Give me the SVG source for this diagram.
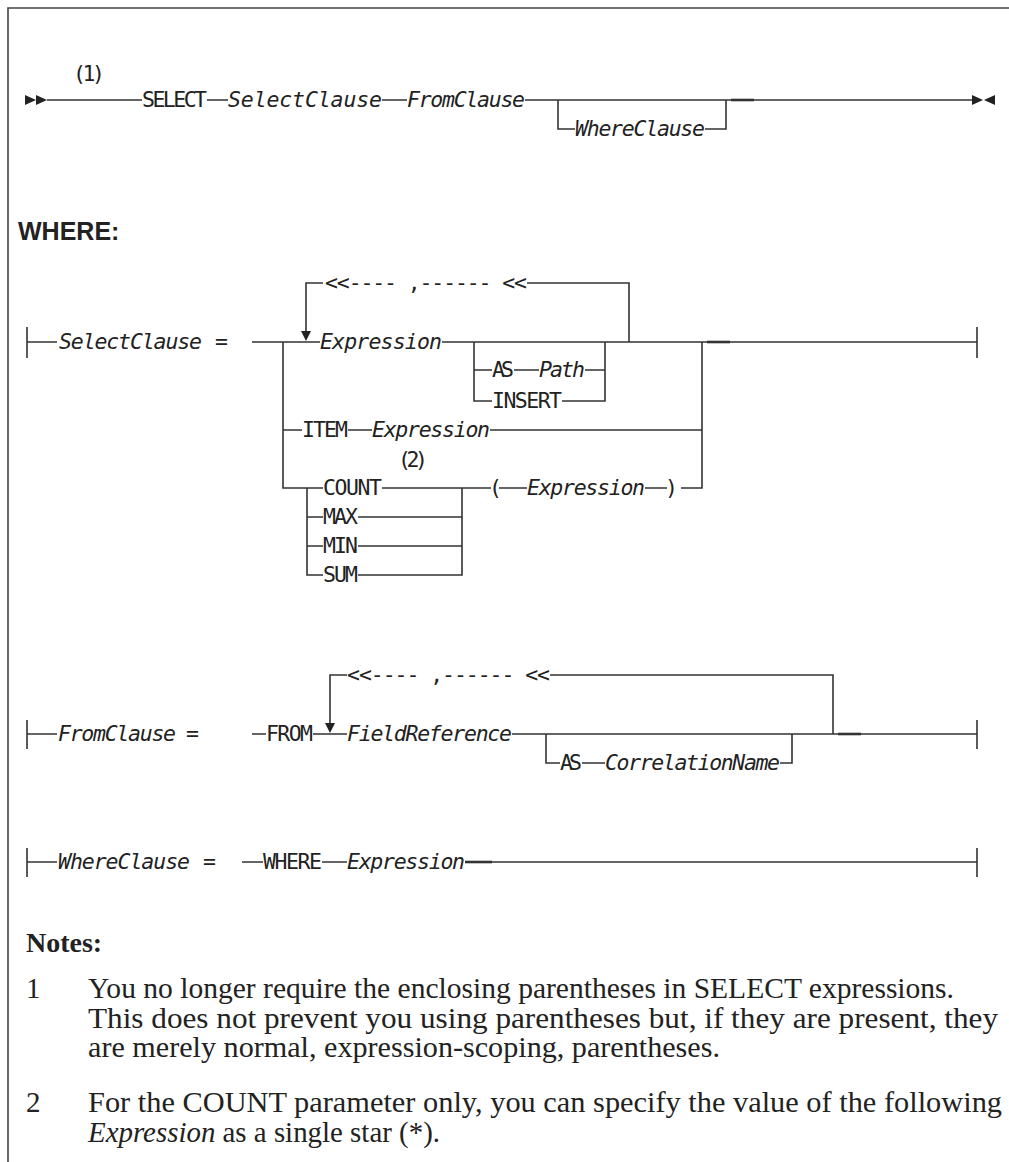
<svg xmlns="http://www.w3.org/2000/svg" width="1009" height="1162" viewBox="0 0 1009 1162">
<style>
.ln{fill:none;stroke:#333;stroke-width:1.6}
.thk{fill:none;stroke:#333;stroke-width:2.6}
.m{font-family:"DejaVu Sans Mono","Liberation Mono",monospace;font-size:21.5px;fill:#222}
.i{font-style:italic}
.hd{font-family:"Liberation Sans",Arial,sans-serif;font-weight:bold;font-size:25px;fill:#222}
.nt{font-family:"Liberation Serif","Times New Roman",serif;font-size:29px;fill:#222}
.nh{font-family:"Liberation Serif","Times New Roman",serif;font-size:28px;font-weight:bold;fill:#222}
.ar{fill:#222}
.frame{fill:none;stroke:#444;stroke-width:1.6}
</style>
<rect width="1009" height="1162" fill="#fff"/>
<path class="frame" d="M1009 8H8V1162"/>

<g id="connectors">
  <!-- main row -->
  <path class="ln" d="M47 100H142M207 100H228M382 100H407M525 100H972"/>
  <path class="ln" d="M558 100V129H575M705 129H726V100"/>
  <path class="thk" d="M731 100H754"/>
  <!-- SelectClause -->
  <path class="ln" d="M27 327V358M27 342H57M252 342H320M442 342H977M977 327V358"/>
  <path class="thk" d="M707 342H730"/>
  <path class="ln" d="M306 331V283H323M527 283H629V342"/>
  <polygon class="ar" points="301,331 311,331 306,341"/>
  <path class="ln" d="M474 342V401H492M474 370H492M514 370H539M585 370H605M605 342V401H562"/>
  <path class="ln" d="M283 342V488H323M283 430H302M348 430H372M490 430H702M702 342V488H681"/>
  <path class="ln" d="M382 488H491M307 488V575H323M307 517H323M307 546H323M358 517H462M358 546H462M358 575H462V488M499 488H527M645 488H667"/>
  <!-- FromClause -->
  <path class="ln" d="M27 720V749M27 734H57M252 734H266M313 734H347M512 734H977M977 720V749"/>
  <path class="thk" d="M838 734H861"/>
  <path class="ln" d="M330 723V675H347M550 675H833V734"/>
  <polygon class="ar" points="325,723 335,723 330,733"/>
  <path class="ln" d="M546 734V763H560M582 763H605M780 763H792V734"/>
  <!-- WhereClause -->
  <path class="ln" d="M27 848V877M27 862H57M242 862H263M322 862H347M465 862H977M977 848V877"/>
  <path class="thk" d="M465 862H492"/>
</g>

<g id="start"><polygon class="ar" points="25,95 36,100 25,105"/><polygon class="ar" points="36,95 47,100 36,105"/></g>
<g id="note1-ref"><text class="m" x="73" y="81" textLength="32">(1)</text></g>
<g id="select-kw"><text class="m" x="142" y="107" textLength="65">SELECT</text></g>
<g id="select-clause"><text class="m i" x="228" y="107" textLength="154">SelectClause</text></g>
<g id="from-clause"><text class="m i" x="407" y="107" textLength="118">FromClause</text></g>
<g id="where-clause-opt"><text class="m i" x="575" y="136" textLength="130">WhereClause</text></g>
<g id="end"><polygon class="ar" points="972,95 983,100 972,105"/><polygon class="ar" points="984,100 995,95 995,105"/></g>

<g id="where-header"><text class="hd" x="18" y="240">WHERE:</text></g>

<g id="selectclause-def"><text class="m i" x="59" y="349" textLength="143">SelectClause</text><text class="m" x="215" y="349">=</text></g>
<g id="sel-loop-label"><text class="m" x="325" y="290" textLength="202">&lt;&lt;---- ,------ &lt;&lt;</text></g>
<g id="sel-expression"><text class="m i" x="320" y="349" textLength="122">Expression</text></g>
<g id="as-kw"><text class="m" x="492" y="377" textLength="22">AS</text></g>
<g id="path"><text class="m i" x="539" y="377" textLength="46">Path</text></g>
<g id="insert"><text class="m" x="492" y="408" textLength="70">INSERT</text></g>
<g id="item"><text class="m" x="302" y="437" textLength="46">ITEM</text></g>
<g id="item-expression"><text class="m i" x="372" y="437" textLength="118">Expression</text></g>
<g id="count"><text class="m" x="323" y="495" textLength="59">COUNT</text><text class="m" x="398" y="467" textLength="30">(2)</text></g>
<g id="max"><text class="m" x="323" y="524" textLength="35">MAX</text></g>
<g id="min"><text class="m" x="323" y="553" textLength="35">MIN</text></g>
<g id="sum"><text class="m" x="323" y="582" textLength="35">SUM</text></g>
<g id="agg-expression"><text class="m" x="489" y="495">(</text><text class="m i" x="527" y="495" textLength="118">Expression</text><text class="m" x="665" y="495">)</text></g>

<g id="fromclause-def"><text class="m i" x="58" y="741" textLength="118">FromClause</text><text class="m" x="186" y="741">=</text></g>
<g id="from-kw"><text class="m" x="266" y="741" textLength="47">FROM</text></g>
<g id="from-loop-label"><text class="m" x="347" y="682" textLength="203">&lt;&lt;---- ,------ &lt;&lt;</text></g>
<g id="fieldreference"><text class="m i" x="347" y="741" textLength="165">FieldReference</text></g>
<g id="from-as"><text class="m" x="560" y="770" textLength="22">AS</text></g>
<g id="correlationname"><text class="m i" x="605" y="770" textLength="175">CorrelationName</text></g>

<g id="whereclause-def"><text class="m i" x="58" y="869" textLength="132">WhereClause</text><text class="m" x="203" y="869">=</text></g>
<g id="where-kw"><text class="m" x="263" y="869" textLength="59">WHERE</text></g>
<g id="where-expression"><text class="m i" x="347" y="869" textLength="118">Expression</text></g>

<g id="notes">
  <text class="nh" x="26" y="952">Notes:</text>
  <text class="nt" x="26" y="998">1</text>
  <text class="nt" x="88" y="998" textLength="866" lengthAdjust="spacingAndGlyphs">You no longer require the enclosing parentheses in SELECT expressions.</text>
  <text class="nt" x="88" y="1028" textLength="910" lengthAdjust="spacingAndGlyphs">This does not prevent you using parentheses but, if they are present, they</text>
  <text class="nt" x="88" y="1057" textLength="632" lengthAdjust="spacingAndGlyphs">are merely normal, expression-scoping, parentheses.</text>
  <text class="nt" x="26" y="1112">2</text>
  <text class="nt" x="88" y="1112" textLength="914" lengthAdjust="spacingAndGlyphs">For the COUNT parameter only, you can specify the value of the following</text>
  <text class="nt" x="88" y="1142" textLength="352" lengthAdjust="spacingAndGlyphs"><tspan font-style="italic">Expression</tspan> as a single star (*).</text>
</g>
</svg>
